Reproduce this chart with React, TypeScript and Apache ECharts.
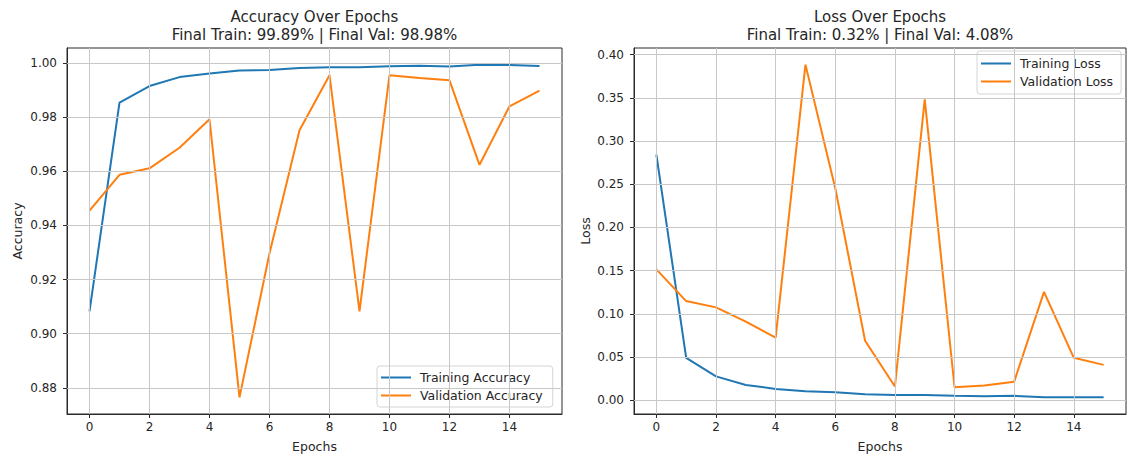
import React, { useEffect, useRef } from "react";
import * as echarts from "echarts";

const epochs = [0, 1, 2, 3, 4, 5, 6, 7, 8, 9, 10, 11, 12, 13, 14, 15];
const trainAcc = [0.9083, 0.9854, 0.9915, 0.9948, 0.9961, 0.9972, 0.9974, 0.9982, 0.9984, 0.9984, 0.9988, 0.999, 0.9987, 0.9994, 0.9993, 0.9989];
const valAcc = [0.9455, 0.9587, 0.9611, 0.9687, 0.9792, 0.8765, 0.9297, 0.9752, 0.9955, 0.9083, 0.9955, 0.9945, 0.9936, 0.9624, 0.984, 0.9898];
const trainLoss = [0.2844, 0.049, 0.0275, 0.0176, 0.013, 0.0103, 0.0092, 0.0069, 0.006, 0.0058, 0.005, 0.0045, 0.005, 0.0033, 0.0033, 0.0032];
const valLoss = [0.1514, 0.1147, 0.1074, 0.091, 0.0723, 0.3885, 0.2454, 0.0688, 0.0157, 0.3483, 0.0149, 0.017, 0.0214, 0.1254, 0.049, 0.0408];
const xTicks = [0, 2, 4, 6, 8, 10, 12, 14];
const accTicks = [0.88, 0.9, 0.92, 0.94, 0.96, 0.98, 1.0];
const lossTicks = [0, 0.05, 0.1, 0.15, 0.2, 0.25, 0.3, 0.35, 0.4];
const accTitle = ["Accuracy Over Epochs", "Final Train: 99.89% | Final Val: 98.98%"];
const lossTitle = ["Loss Over Epochs", "Final Train: 0.32% | Final Val: 4.08%"];

const FONT = "DejaVu Sans";
const TXT = "#262626";
const AX = "#2a2a2a";
const GRIDC = "#c8c8c8";
const BLUE = "#1f77b4";
const ORANGE = "#ff7f0e";

function pad(arrs: number[][]) {
  const all = arrs.flat();
  const lo = Math.min(...all);
  const hi = Math.max(...all);
  const m = (hi - lo) * 0.05;
  return [lo - m, hi + m];
}

function xAxisFor(gi: number) {
  return {
    gridIndex: gi,
    type: "value",
    min: -0.75,
    max: 15.75,
    name: "Epochs",
    nameLocation: "middle",
    nameGap: 26,
    nameTextStyle: { fontSize: 12.5, color: TXT, fontFamily: FONT },
    axisLine: { show: true, onZero: false, lineStyle: { color: AX, width: 1 } },
    axisTick: { show: true, customValues: xTicks, length: 4, lineStyle: { color: AX, width: 1 } },
    axisLabel: { customValues: xTicks, fontSize: 12, color: TXT, fontFamily: FONT, margin: 7 },
    splitLine: { show: false },
  };
}

function yAxisFor(gi: number, ext: number[], ticks: number[], name: string, gap: number) {
  return {
    gridIndex: gi,
    type: "value",
    min: ext[0],
    max: ext[1],
    name,
    nameLocation: "middle",
    nameGap: gap,
    nameTextStyle: { fontSize: 12.5, color: TXT, fontFamily: FONT },
    axisLine: { show: true, onZero: false, lineStyle: { color: AX, width: 1 } },
    axisTick: { show: true, customValues: ticks, length: 4, lineStyle: { color: AX, width: 1 } },
    axisLabel: {
      customValues: ticks,
      fontSize: 12,
      color: TXT,
      fontFamily: FONT,
      margin: 10,
      formatter: (v: number) => v.toFixed(2),
    },
    splitLine: { show: false },
  };
}

function gridSeries(gi: number, yTicks: number[]) {
  return {
    type: "line",
    name: "__grid" + gi,
    xAxisIndex: gi,
    yAxisIndex: gi,
    data: [],
    z: 1,
    silent: true,
    markLine: {
      silent: true,
      symbol: ["none", "none"],
      label: { show: false },
      lineStyle: { color: GRIDC, width: 1, type: "solid" },
      emphasis: { disabled: true },
      data: [...xTicks.map((v) => ({ xAxis: v })), ...yTicks.map((v) => ({ yAxis: v }))],
    },
  };
}

function lineSeries(gi: number, name: string, vals: number[], color: string) {
  return {
    type: "line",
    name,
    xAxisIndex: gi,
    yAxisIndex: gi,
    data: epochs.map((e, i) => [e, vals[i]]),
    showSymbol: false,
    symbol: "none",
    z: 3,
    color,
    lineStyle: { color, width: 2 },
  };
}

function titleTexts(cx: number, lines: string[]) {
  return lines.map((t, i) => ({
    type: "text",
    x: cx,
    y: i === 0 ? 17 : 34.5,
    style: {
      text: t,
      textAlign: "center",
      textVerticalAlign: "middle",
      fontSize: 15,
      fontFamily: FONT,
      fill: TXT,
    },
  }));
}

const legendBase = {
  orient: "vertical",
  icon: "rect",
  itemWidth: 30,
  itemHeight: 2,
  itemGap: 5,
  backgroundColor: "rgba(255,255,255,0.85)",
  borderColor: "#d4d4d4",
  borderWidth: 1,
  borderRadius: 3,
  textStyle: { fontSize: 12.5, color: TXT, fontFamily: FONT, padding: [0, 0, 0, 4] },
};

export default function App() {
  const ref = useRef<HTMLDivElement>(null);
  useEffect(() => {
    if (!ref.current) return;
    const chart = echarts.init(ref.current, null, { renderer: "svg" });
    const accExt = pad([trainAcc, valAcc]);
    const lossExt = pad([trainLoss, valLoss]);
    chart.setOption({
      animation: false,
      backgroundColor: "#ffffff",
      textStyle: { fontFamily: FONT },
      grid: [
        { left: 67, top: 48, width: 495, height: 368, show: true, borderColor: AX, borderWidth: 1, backgroundColor: "transparent" },
        { left: 634, top: 48, width: 492, height: 368, show: true, borderColor: AX, borderWidth: 1, backgroundColor: "transparent" },
      ],
      xAxis: [xAxisFor(0), xAxisFor(1)],
      yAxis: [yAxisFor(0, accExt, accTicks, "Accuracy", 43), yAxisFor(1, lossExt, lossTicks, "Loss", 42)],
      legend: [
        { ...legendBase, data: ["Training Accuracy", "Validation Accuracy"], left: 377, top: 366, padding: [5, 10, 5, 4] },
        { ...legendBase, data: ["Training Loss", "Validation Loss"], left: 977, top: 51, padding: [6, 8, 6, 4] },
      ],
      graphic: [...titleTexts(314.5, accTitle), ...titleTexts(880, lossTitle)],
      series: [
        gridSeries(0, accTicks),
        gridSeries(1, lossTicks),
        lineSeries(0, "Training Accuracy", trainAcc, BLUE),
        lineSeries(0, "Validation Accuracy", valAcc, ORANGE),
        lineSeries(1, "Training Loss", trainLoss, BLUE),
        lineSeries(1, "Validation Loss", valLoss, ORANGE),
      ],
    });
    return () => chart.dispose();
  }, []);
  return <div ref={ref} style={{ position: "absolute", left: 0, top: 0, width: 1129, height: 458 }} />;
}
